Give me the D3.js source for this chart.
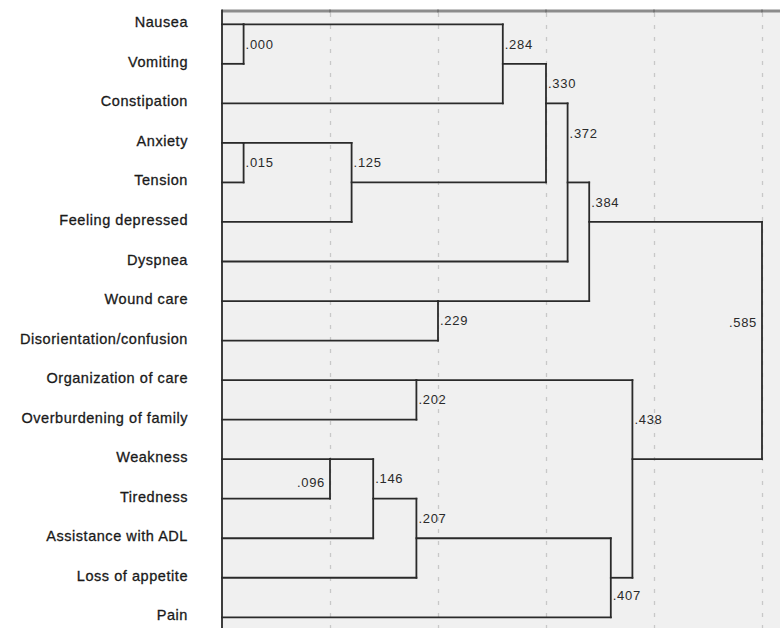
<!DOCTYPE html>
<html>
<head>
<meta charset="utf-8">
<script src="https://cdn.jsdelivr.net/npm/d3@7/dist/d3.min.js"></script>
<style>
  html, body { margin: 0; padding: 0; background: #fff; }
  svg { display: block; }
</style>
</head>
<body>
<svg id="chart" width="780" height="628"></svg>
<script>
// ---------------- DATA ----------------
const leaves = [
  "Nausea", "Vomiting", "Constipation", "Anxiety", "Tension",
  "Feeling depressed", "Dyspnea ", "Wound care", "Disorientation/confusion",
  "Organization of care", "Overburdening of family", "Weakness", "Tiredness",
  "Assistance with ADL", "Loss of appetite", "Pain"
];
// merge steps: ids 0..15 are leaves, merge k gets id 16+k
const mergeLeft  = [0, 3, 11, 17, 18, 9, 20, 7, 16, 24, 25, 26, 22, 21, 27];
const mergeRight = [1, 4, 12, 5, 13, 10, 14, 8, 2, 19, 6, 23, 15, 28, 29];
// rescaled distance (0–25 scale) at which each merge is drawn
const mergeRescaled = [1, 1, 5, 6, 7, 9, 9, 10, 13, 15, 16, 17, 18, 19, 25];
// coefficient labels printed next to each merge
const mergeLabels = [".000", ".015", ".096", ".125", ".146", ".202", ".207", ".229",
                     ".284", ".330", ".372", ".384", ".407", ".438", ".585"];
// row (in leaf-row units) where each coefficient label sits
const labelRows = [0.5, 3.5, 11.6, 3.5, 11.5, 9.5, 12.5, 7.5,
                   0.5, 1.5, 2.75, 4.5, 14.45, 10, 7.55];
const labelLeftSide = [false, false, true, false, false, false, false, false,
                       false, false, false, false, false, false, true];
const gridTicks = [0, 5, 10, 15, 20, 25];

// ---------------- LAYOUT ----------------
const svg = d3.select("#chart");
const plotLeft = 222, plotTop = 11, plotRight = 780, plotBottom = 628;

const x = d3.scaleLinear().domain([0, 25]).range([plotLeft, 762]);
const y = d3.scaleLinear().domain([0, leaves.length - 1]).range([24.3, 617.3]);

// build node table
const nodes = leaves.map((name, i) => ({ id: i, name, row: i, r: 0, parent: null }));
mergeLeft.forEach((a, k) => {
  const b = mergeRight[k];
  const node = {
    id: leaves.length + k,
    a: nodes[a], b: nodes[b],
    r: mergeRescaled[k],
    row: Math.floor((nodes[a].row + nodes[b].row) / 2),
    label: mergeLabels[k],
    labelRow: labelRows[k],
    left: labelLeftSide[k],
    parent: null
  };
  nodes[a].parent = node;
  nodes[b].parent = node;
  nodes.push(node);
});

// background
svg.append("rect")
  .attr("x", plotLeft).attr("y", plotTop)
  .attr("width", plotRight - plotLeft + 10).attr("height", plotBottom - plotTop + 10)
  .attr("fill", "#f0f0f0");

// grid via axis
const axis = d3.axisTop(x).tickValues(gridTicks).tickFormat("")
  .tickSize(-(plotBottom - plotTop)).tickSizeOuter(0);
const g = svg.append("g").attr("transform", `translate(0,${plotTop})`).call(axis);
g.select(".domain").remove();
g.selectAll(".tick line")
  .attr("stroke", "#c8c8c8")
  .attr("stroke-width", 1.3)
  .attr("stroke-dasharray", "4,8")
  .attr("stroke-dashoffset", -2);
g.selectAll(".tick").filter(d => d === 0).remove();

// top border
svg.append("line")
  .attr("x1", plotLeft).attr("x2", plotRight + 5)
  .attr("y1", plotTop).attr("y2", plotTop)
  .attr("stroke", "#8c8c8c").attr("stroke-width", 3);
// small ticks on top border
svg.selectAll("line.topTick").data(gridTicks.slice(1)).enter().append("line")
  .attr("class", "topTick")
  .attr("x1", d => x(d)).attr("x2", d => x(d))
  .attr("y1", plotTop - 1.5).attr("y2", plotTop + 1.5)
  .attr("stroke", "#666").attr("stroke-width", 1.2);

// tree lines
const lineColor = "#2a2a2a";
const links = svg.append("g")
  .attr("stroke", lineColor).attr("stroke-width", 1.8)
  .attr("fill", "none").attr("stroke-linecap", "square");

nodes.forEach(n => {
  if (n.parent) {
    links.append("line")
      .attr("x1", x(n.r)).attr("x2", x(n.parent.r))
      .attr("y1", y(n.row)).attr("y2", y(n.row));
  }
  if (n.a) {
    links.append("line")
      .attr("x1", x(n.r)).attr("x2", x(n.r))
      .attr("y1", y(n.a.row)).attr("y2", y(n.b.row));
  }
});

// left border
svg.append("line")
  .attr("x1", plotLeft).attr("x2", plotLeft)
  .attr("y1", plotTop - 1.5).attr("y2", plotBottom + 5)
  .attr("stroke", "#2a2a2a").attr("stroke-width", 1.8);

// leaf labels
svg.append("g").selectAll("text").data(leaves).enter().append("text")
  .attr("x", 188)
  .attr("y", (d, i) => y(i) - 2)
  .attr("text-anchor", "end")
  .attr("dominant-baseline", "central")
  .attr("font-family", "Liberation Sans, Arial, sans-serif")
  .attr("font-size", 14.5)
  .attr("letter-spacing", 0.55)
  .attr("fill", "#1a1a1a")
  .attr("stroke", "#1a1a1a")
  .attr("stroke-width", 0.3)
  .text(d => d.trimEnd());

// coefficient labels
const merges = nodes.filter(n => n.a);
svg.append("g").selectAll("text").data(merges).enter().append("text")
  .attr("x", d => d.left ? x(d.r) - 5 : x(d.r) + 2)
  .attr("y", d => y(d.labelRow))
  .attr("text-anchor", d => d.left ? "end" : "start")
  .attr("dominant-baseline", "central")
  .attr("font-family", "Liberation Sans, Arial, sans-serif")
  .attr("font-size", 13)
  .attr("letter-spacing", 0.7)
  .attr("fill", "#2a2a2a")
  .text(d => d.label);
</script>
</body>
</html>
